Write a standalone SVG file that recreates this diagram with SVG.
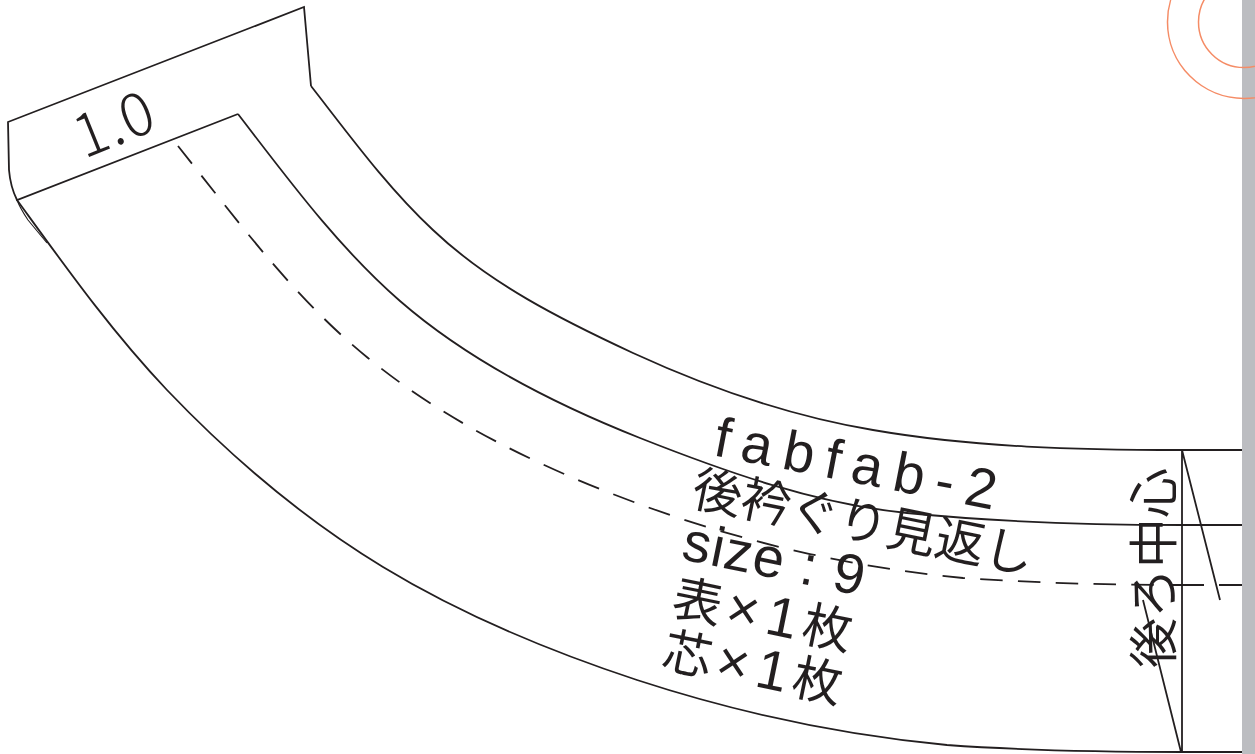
<svg xmlns="http://www.w3.org/2000/svg" width="1255" height="754" viewBox="0 0 1255 754">
<style>
.l{fill:none;stroke:#231f20;stroke-width:1.800}
.d{stroke-dasharray:22.5 15.300}
.t{font-family:"Noto Sans CJK JP","Noto Sans",sans-serif;font-weight:400;fill:#231f20;font-size:49.500px}
.n{font-family:"Liberation Sans",Arial,sans-serif;font-size:56px}
.o{fill:none;stroke:#f58c66;stroke-width:1.500}
</style>
<rect width="1255" height="754" fill="#fff"/>
<rect x="1242" y="0" width="13" height="754" fill="#bcbdc1"/>
<g id="circles"><circle class="o" cx="1244" cy="22" r="76.500"/><circle class="o" cx="1244" cy="22" r="45.500"/></g>
<g id="pattern">
<path class="l" d="M311 86C350 136 387 187 433 230C490 284 562 320 633 353C709 388 790 416 873 430C974 447.500 1079 450 1182 450L1242 450"/>
<path class="l" d="M238 114C288 179 338 247 400 301C469 361 554 404 640 438C726 472 816 504 907 513C998 522 1090 525 1182 525L1242 525"/>
<path class="l d" d="M178 146C237 220 294 298 368 358C450 425 550 472 650 508C750 544 857 568 963 578C1036 583 1109 585 1182 585"/>
<path class="l" d="M1181 585H1204M1219 585H1242"/>
<path class="l" d="M311 86L304 7L8 122L9 170C10 182 13 192 17 200L238 114"/>
<path class="l" d="M17 200C65 266 111 331 167 390C231 457 304 519 383 567C462 615 549 651 637 680C738 713 842 735 947 745C1025 750.500 1104 752 1182 752L1242 752"/>
<path class="l" style="stroke-width:1.100" d="M17 200C20 208 24 214 28 220L47 243"/>
<path class="l" d="M1182 450V752M1182 450L1220 600M1143 600L1181 752"/>
</g>
<g id="labels">
<text class="t" style="font-size:60px;font-weight:300" letter-spacing="1" transform="translate(84,159) rotate(-22)">1.0</text>
<text class="t n" letter-spacing="11.500" transform="translate(712,455) rotate(11)">fabfab-2</text>
<text class="t" transform="translate(690,505) rotate(11.500)">後衿ぐり見返し</text>
<text class="t n" letter-spacing="1" transform="translate(680,559) rotate(11.500)">size : 9</text>
<text class="t" transform="translate(670,614) rotate(11.500)">表<tspan class="n" dx="5">×</tspan><tspan class="n" dx="8">1</tspan><tspan dx="6">枚</tspan></text>
<text class="t" transform="translate(660,667) rotate(11.500)">芯<tspan class="n" dx="5">×</tspan><tspan class="n" dx="8">1</tspan><tspan dx="6">枚</tspan></text>
<text class="t" style="font-size:50px" transform="translate(1172,668) rotate(-90)">後ろ中心</text>
</g>
</svg>
